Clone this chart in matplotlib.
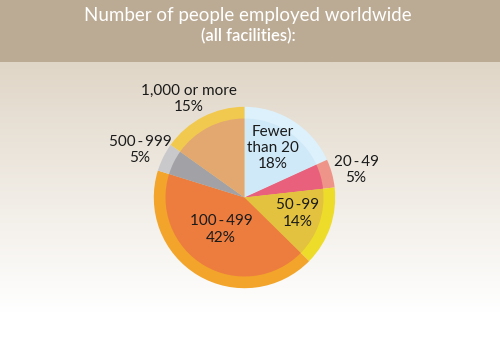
import numpy as np
import matplotlib
matplotlib.use("Agg")
import matplotlib.pyplot as plt
from matplotlib.patches import Rectangle

# Data
categories = ["Fewer than 20", "20-49", "50-99", "100-499", "500-999", "1,000 or more"]
percents = [18, 5, 14, 42, 5, 15]
label_texts = ["Fewer\nthan 20\n18%", "20\u2009-\u200949\n5%", "50\u2009-99\n14%",
               "100\u2009-\u2009499\n42%", "500\u2009-\u2009999\n5%", "1,000 or more\n15%"]
title_line1 = "Number of people employed worldwide"
title_line2 = "(all facilities):"

inner_colors = ["#cfe9f8", "#e8607c", "#e2c23e", "#ed7d3f", "#a2a2a6", "#e3a870"]
outer_colors = ["#ddf1fc", "#ef9488", "#eedc2a", "#f2a52a", "#c9c9cc", "#f2c94f"]

W, H = 500, 345
fig = plt.figure(figsize=(W / 100, H / 100), dpi=100)
ax = fig.add_axes([0, 0, 1, 1])
font = ["Lato", "DejaVu Sans"]

# background gradient (data coords in pixels, y up)
header_h = 62
grad = np.linspace(0, 1, 256)[:, None]
top = np.array([0xe0, 0xd6, 0xc7]) / 255.0
bot = np.array([1.0, 1.0, 1.0])
t = np.clip(grad / 0.97, 0, 1)
img = top[None, None, :] * (1 - t[..., None]) + bot[None, None, :] * t[..., None]
ax.imshow(img, extent=[0, W, 25, H - header_h], aspect="auto", origin="upper", zorder=0)
ax.add_patch(Rectangle((0, 0), W, 25, color="white", zorder=0.5, lw=0))
ax.add_patch(Rectangle((0, H - header_h), W, header_h, color="#bcab94", zorder=1, lw=0))

ax.text(248, H - 16, title_line1, ha="center", va="center", color="white",
        fontsize=13.5, family=font, zorder=3)
ax.text(248, H - 36, title_line2, ha="center", va="center", color="white",
        fontsize=12, family=font, fontweight="semibold", zorder=3)

cx, cy = 244.5, H - 197.5
R_out, R_in = 90.7, 79
ax.pie(percents, colors=outer_colors, radius=R_out, center=(cx, cy), startangle=90,
       counterclock=False, wedgeprops=dict(linewidth=0, zorder=2))
ax.pie(percents, colors=inner_colors, radius=R_in, center=(cx, cy), startangle=90,
       counterclock=False, wedgeprops=dict(linewidth=0, zorder=2.5))

label_pos = [(273, 148), (356, 170), (298, 213.5), (221, 229.5), (140, 150), (189, 99)]
for txt, (x, y) in zip(label_texts, label_pos):
    ax.text(x, H - y, txt, ha="center", va="center", fontsize=11, family=font,
            color="#1a1a1a", linespacing=1.2, zorder=4)

ax.set_xlim(0, W)
ax.set_ylim(0, H)
ax.set_aspect("auto")
ax.axis("off")
fig.savefig("out.png", dpi=100)
